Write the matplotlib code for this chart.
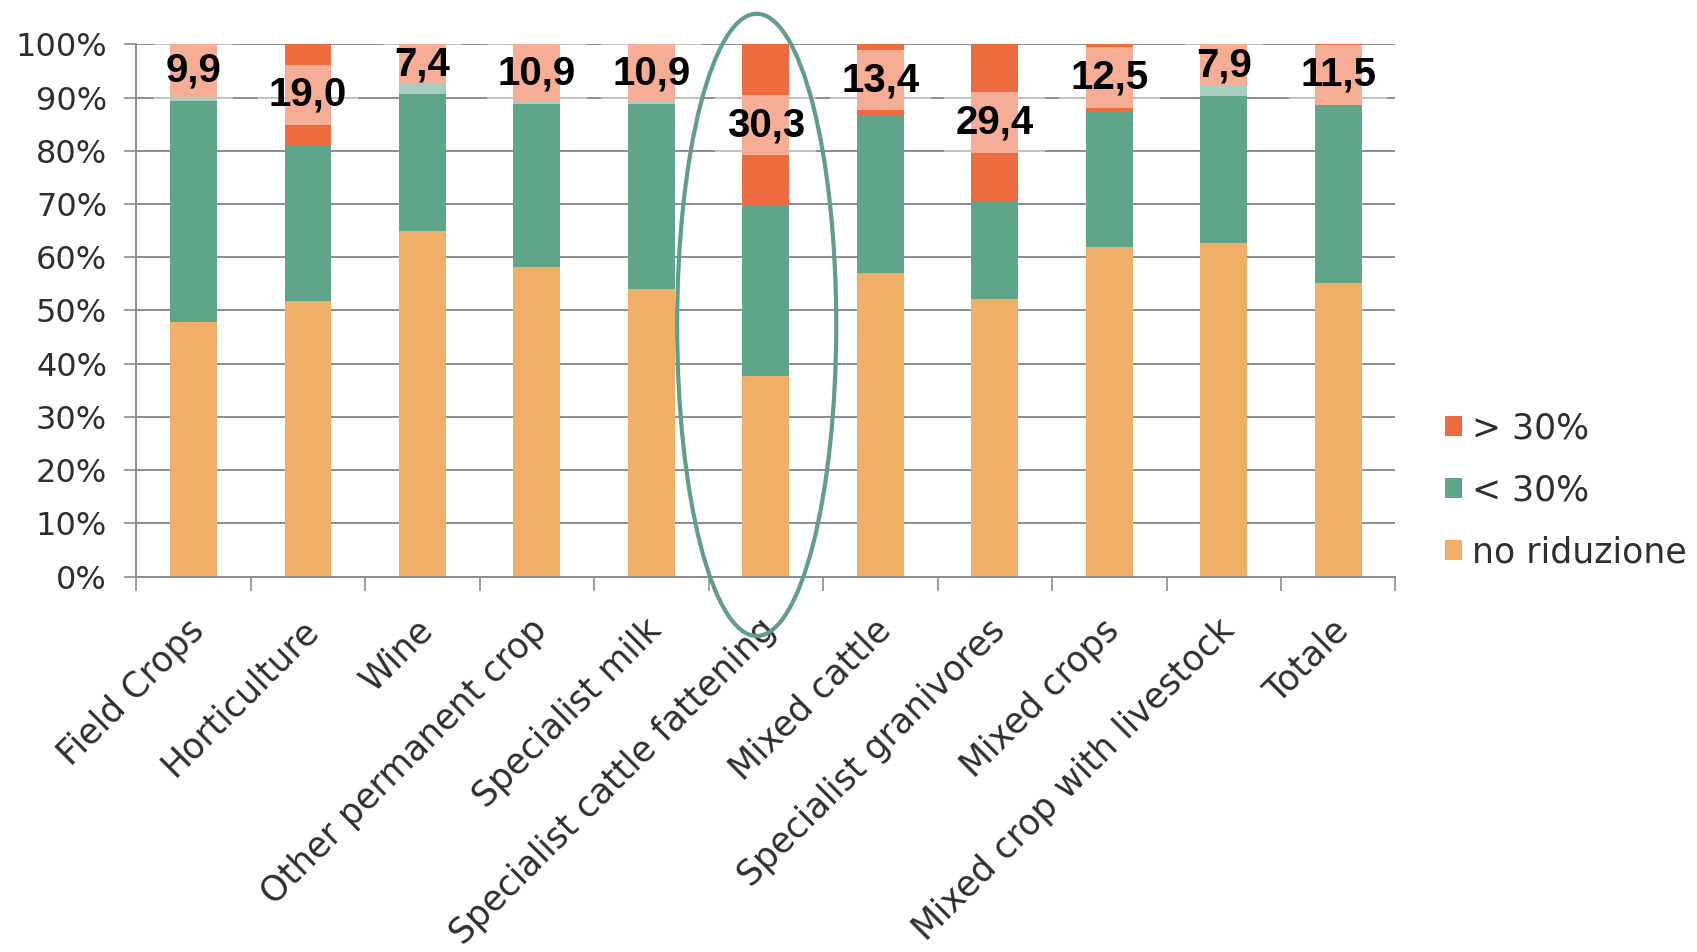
import matplotlib
matplotlib.use("Agg")
import matplotlib.pyplot as plt
import matplotlib.transforms as mtransforms
from matplotlib.patches import Ellipse
import numpy as np

categories = ["Field Crops", "Horticulture", "Wine", "Other permanent crop",
              "Specialist milk", "Specialist cattle fattening", "Mixed cattle",
              "Specialist granivores", "Mixed crops", "Mixed crop with livestock",
              "Totale"]
no_riduzione = [47.8, 51.8, 65.0, 58.1, 54.1, 37.6, 57.1, 52.2, 62.0, 62.6, 55.1]
over30 = [9.9, 19.0, 7.4, 10.9, 10.9, 30.3, 13.4, 29.4, 12.5, 7.9, 11.5]
under30 = [100 - o - n for o, n in zip(over30, no_riduzione)]
over30_labels = ["9,9", "19,0", "7,4", "10,9", "10,9", "30,3", "13,4", "29,4", "12,5", "7,9", "11,5"]
yticks = [0, 10, 20, 30, 40, 50, 60, 70, 80, 90, 100]
ytick_labels = ["0%", "10%", "20%", "30%", "40%", "50%", "60%", "70%", "80%", "90%", "100%"]
series_names = ["no riduzione", "< 30%", "> 30%"]

c_orange = "#F0AE66"
c_green = "#5FA58A"
c_red = "#EE6A3F"
c_grid = "#8C8C8C"
c_text = "#2E2E2E"

plt.rcParams['font.family'] = ['DejaVu Sans']

fig = plt.figure(figsize=(16.97, 9.52), dpi=100)
ax = fig.add_axes([0.0803, 0.3943, 0.8223 - 0.0803, 0.9534 - 0.3943])

x = np.arange(len(categories))
w = 0.41
b1 = ax.bar(x, no_riduzione, w, color=c_orange, zorder=2, label=series_names[0])
b2 = ax.bar(x, under30, w, bottom=no_riduzione, color=c_green, zorder=2, label=series_names[1])
bottom3 = [n + u for n, u in zip(no_riduzione, under30)]
b3 = ax.bar(x, over30, w, bottom=bottom3, color=c_red, zorder=2, label=series_names[2])

for xi, b, o, lab in zip(x, bottom3, over30, over30_labels):
    ax.text(xi, b + o / 2, lab, ha="center", va="center", fontsize=29,
            fontweight="bold", family="Liberation Sans", color="black", zorder=4,
            bbox=dict(boxstyle="square,pad=0.28", facecolor="white", alpha=0.45,
                      edgecolor="none"))

ax.set_xlim(-0.5, len(categories) - 0.5)
ax.set_ylim(0, 100)
ax.set_yticks(yticks)
ax.set_yticklabels(ytick_labels, fontsize=23, color=c_text)
ax.yaxis.grid(True, color=c_grid, linewidth=1.4, zorder=0)
ax.set_axisbelow(True)
ax.tick_params(axis="y", length=9, width=1.2, color=c_grid, pad=12)

ax.set_xticks(x)
ax.set_xticklabels(categories, fontsize=25, color=c_text, rotation=45,
                   ha="right", va="top", rotation_mode="anchor")
ax.set_xticks(np.arange(-0.5, len(categories)), minor=True)
ax.tick_params(axis="x", which="major", length=0, pad=26)
ax.tick_params(axis="x", which="minor", length=10, width=1.2, color=c_grid)
offset = mtransforms.ScaledTranslation(-7 / 100, 0, fig.dpi_scale_trans)
for lbl in ax.get_xticklabels():
    lbl.set_transform(lbl.get_transform() + offset)

for s in ["top", "right"]:
    ax.spines[s].set_visible(False)
for s in ["left", "bottom"]:
    ax.spines[s].set_color(c_grid)
    ax.spines[s].set_linewidth(1.4)

ell = Ellipse((4.92, 47.3), 1.39, 116.9, fill=False, edgecolor="#5E9F85",
              linewidth=3.0, clip_on=False, zorder=5)
ax.add_patch(ell)

fig.legend(handles=[b3, b2, b1], labels=[series_names[2], series_names[1], series_names[0]],
           loc="center left", bbox_to_anchor=(0.841, 0.485), frameon=False,
           fontsize=25, handlelength=0.5, handleheight=0.5, handletextpad=0.3,
           labelspacing=0.8, borderpad=0, labelcolor=c_text)

fig.savefig("out.png", dpi=100, facecolor="white")
